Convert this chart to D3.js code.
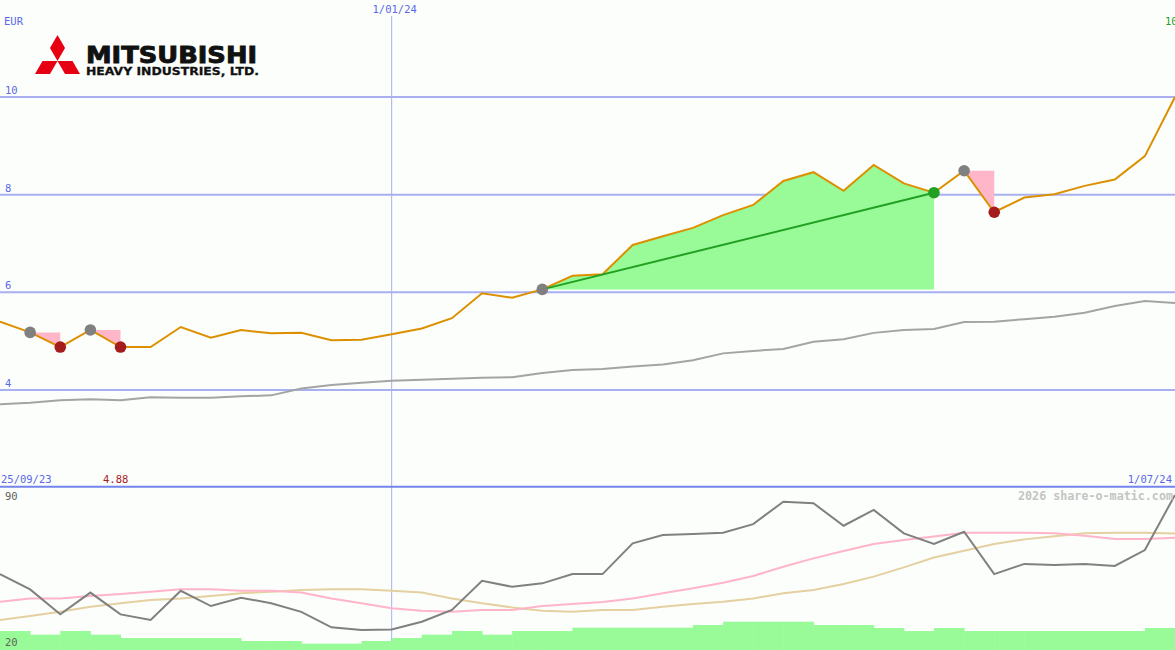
<!DOCTYPE html>
<html>
<head>
<meta charset="utf-8">
<script src="https://cdn.jsdelivr.net/npm/d3@7"></script>
<style>
html,body{margin:0;padding:0;background:#fbfefb;}
svg{display:block;}
</style>
</head>
<body>
<svg id="chart" width="1175" height="650"></svg>
<script>
// ---------- DATA ----------
const dates = ["2023-10-02","2023-10-09","2023-10-16","2023-10-23","2023-10-30","2023-11-06","2023-11-13","2023-11-20","2023-11-27","2023-12-04","2023-12-11","2023-12-18","2023-12-25","2024-01-01","2024-01-08","2024-01-15","2024-01-22","2024-01-29","2024-02-05","2024-02-12","2024-02-19","2024-02-26","2024-03-04","2024-03-11","2024-03-18","2024-03-25","2024-04-01","2024-04-08","2024-04-15","2024-04-22","2024-04-29","2024-05-06","2024-05-13","2024-05-20","2024-05-27","2024-06-03","2024-06-10","2024-06-17","2024-06-24","2024-07-01"];
const price = [5.40,5.18,4.88,5.23,4.88,4.88,5.29,5.07,5.23,5.16,5.17,5.02,5.03,5.14,5.26,5.47,5.98,5.89,6.06,6.34,6.37,6.97,7.15,7.32,7.58,7.79,8.28,8.46,8.08,8.61,8.23,8.04,8.49,7.64,7.94,8.01,8.18,8.31,8.79,10.0];
const movingAvg = [3.71,3.74,3.79,3.81,3.79,3.85,3.84,3.84,3.87,3.89,4.03,4.10,4.15,4.19,4.21,4.23,4.25,4.26,4.35,4.41,4.43,4.48,4.52,4.61,4.75,4.80,4.84,4.99,5.04,5.17,5.23,5.25,5.39,5.40,5.45,5.50,5.58,5.72,5.82,5.78];
const oscMain = [52.8,46.2,35.4,44.8,35.4,33.0,45.6,39.0,42.6,40.2,36.5,29.8,28.6,28.9,32.2,37.3,49.9,47.3,48.8,52.8,52.8,66.1,69.7,70.1,70.7,74.4,84.1,83.4,73.7,80.5,70.4,65.8,71.1,52.8,57.2,56.7,57.2,56.3,63.2,87.0];
const oscPink = [40.9,42.3,42.3,43.3,44.2,45.2,46.2,46.2,45.6,45.6,44.8,42.3,40.2,38.0,37.0,36.5,37.3,37.3,39.0,39.9,40.7,42.3,44.5,46.7,49.1,52.0,56.0,59.6,62.8,65.8,67.5,69.0,70.7,70.7,70.7,70.4,69.4,68.0,68.0,68.5];
const oscTan = [33.0,34.7,36.5,38.7,40.2,41.6,42.3,43.3,44.5,45.2,45.9,46.2,46.2,45.6,44.8,42.3,40.2,38.4,37.0,36.5,37.3,37.3,38.7,39.9,40.9,42.3,44.5,45.9,48.5,51.7,55.7,60.0,62.9,65.8,67.8,69.2,70.4,70.7,70.7,70.3];
const volume = [5.7,4.6,5.7,4.6,3.6,3.6,3.6,3.6,2.7,2.7,1.9,1.9,2.7,3.6,4.6,5.7,4.6,5.7,5.7,6.7,6.7,6.7,6.7,7.5,8.5,8.5,8.5,7.5,7.5,6.6,5.7,6.6,5.7,5.7,5.7,5.7,5.7,5.7,6.6];
// trades: entry/exit dates; win = green, loss = pink
const tradeStart = ["2023-10-09","2023-10-23","2024-02-05","2024-05-13"];
const tradeEnd   = ["2023-10-16","2023-10-30","2024-05-06","2024-05-20"];
const priceTicks = [4,6,8,10];
const oscTicks = [20,90];
const markerDate = "2024-01-01";
const markerLabel = "1/01/24";
const startLabel = "25/09/23";
const endLabel = "1/07/24";
const lowLabel = "4.88";
const lastLabel = "10.00";

// ---------- SETUP ----------
const W = 1175, H = 650;
const parse = d3.timeParse("%Y-%m-%d");
const dt = dates.map(parse);
const idx = {}; dates.forEach((d,i)=>idx[d]=i);

const svg = d3.select("#chart");
const x = d3.scaleTime().domain([dt[0], dt[dt.length-1]]).range([0, W]);
const y = d3.scaleLinear().domain([4,10]).range([390,97]);
const yo = d3.scaleLinear().domain([20,90]).range([650,488]);
const yv = d3.scaleLinear().domain([0,10]).range([650,616.7]);

const mono = "'DejaVu Sans Mono', 'Liberation Mono', monospace";

svg.append("rect").attr("width",W).attr("height",H).attr("fill","#fbfefb");

// horizontal price grid
svg.append("g").selectAll("line").data(priceTicks).join("line")
  .attr("x1",0).attr("x2",W).attr("y1",d=>y(d)).attr("y2",d=>y(d))
  .attr("stroke","#a8b0f2").attr("stroke-width",2);
svg.append("g").selectAll("text").data(priceTicks).join("text")
  .attr("x",5).attr("y",d=>y(d)-3).text(d=>d)
  .attr("font-family",mono).attr("font-size",10.5).attr("fill","#5a68e8");

// vertical date marker
svg.append("line").attr("x1",x(parse(markerDate))).attr("x2",x(parse(markerDate)))
  .attr("y1",16).attr("y2",H).attr("stroke","#a8b0f2").attr("stroke-width",1);
svg.append("text").attr("x",x(parse(markerDate))+3).attr("y",13).attr("text-anchor","middle")
  .text(markerLabel).attr("font-family",mono).attr("font-size",10.5).attr("fill","#5a68e8");

// panel separator
svg.append("line").attr("x1",0).attr("x2",W).attr("y1",486.7).attr("y2",486.7)
  .attr("stroke","#7484ec").attr("stroke-width",2);

// trades fills
tradeStart.forEach((s,k)=>{
  const a = idx[s], b = idx[tradeEnd[k]];
  const base = price[a];
  const win = price[b] > base;
  const pts = [];
  for (let i=a;i<=b;i++) pts.push([x(dt[i]), y(price[i])]);
  pts.push([x(dt[b]), y(base)]);
  pts.push([x(dt[a]), y(base)]);
  svg.append("path").attr("d", d3.line()(pts)+"Z")
    .attr("fill", win ? "#98fb98" : "#ffb6c8").attr("stroke","none");
});

// moving average
svg.append("path").datum(movingAvg)
  .attr("d", d3.line().x((d,i)=>x(dt[i])).y(d=>y(d)))
  .attr("fill","none").attr("stroke","#a4a4a4").attr("stroke-width",2);

// price line
svg.append("path").datum(price)
  .attr("d", d3.line().x((d,i)=>x(dt[i])).y(d=>y(d)))
  .attr("fill","none").attr("stroke","#dc9000").attr("stroke-width",2);

// winning trade straight line
tradeStart.forEach((s,k)=>{
  const a = idx[s], b = idx[tradeEnd[k]];
  if (price[b] > price[a]) {
    svg.append("line").attr("x1",x(dt[a])).attr("y1",y(price[a]))
      .attr("x2",x(dt[b])).attr("y2",y(price[b]))
      .attr("stroke","#22a022").attr("stroke-width",2);
  }
});

// markers
tradeStart.forEach((s,k)=>{
  const a = idx[s], b = idx[tradeEnd[k]];
  const win = price[b] > price[a];
  svg.append("circle").attr("cx",x(dt[a])).attr("cy",y(price[a])).attr("r",5.8).attr("fill","#808080");
  svg.append("circle").attr("cx",x(dt[b])).attr("cy",y(price[b])).attr("r",5.8).attr("fill", win ? "#22a022" : "#a41c1c");
});

// lower panel lines
const lo = d3.line().x((d,i)=>x(dt[i])).y(d=>yo(d));
svg.append("path").datum(oscTan).attr("d",lo).attr("fill","none").attr("stroke","#e4d0a0").attr("stroke-width",2);
svg.append("path").datum(oscPink).attr("d",lo).attr("fill","none").attr("stroke","#ffb4c8").attr("stroke-width",2);
svg.append("path").datum(oscMain).attr("d",lo).attr("fill","none").attr("stroke","#808080").attr("stroke-width",2);

// volume bars
svg.append("g").selectAll("rect").data(volume).join("rect")
  .attr("x",(d,i)=>x(dt[i])).attr("width",(d,i)=>x(dt[i+1])-x(dt[i])+0.5)
  .attr("y",d=>yv(d)).attr("height",d=>yv(0)-yv(d))
  .attr("fill","#98fb98");

// osc labels
svg.append("g").selectAll("text").data(oscTicks).join("text")
  .attr("x",5).attr("y",d=> d===90 ? 500 : 646).text(d=>d)
  .attr("font-family",mono).attr("font-size",10.5).attr("fill","#606060");

// texts
svg.append("text").attr("x",4).attr("y",25).text("EUR")
  .attr("font-family",mono).attr("font-size",10.5).attr("fill","#5a68e8");
svg.append("text").attr("x",1165).attr("y",25).text(lastLabel)
  .attr("font-family",mono).attr("font-size",10.5).attr("fill","#22a022");
svg.append("text").attr("x",1).attr("y",483).text(startLabel)
  .attr("font-family",mono).attr("font-size",10.5).attr("fill","#5a68e8");
svg.append("text").attr("x",103).attr("y",483).text(lowLabel)
  .attr("font-family",mono).attr("font-size",10.5).attr("fill","#a41c1c");
svg.append("text").attr("x",1172).attr("y",483).attr("text-anchor","end").text(endLabel)
  .attr("font-family",mono).attr("font-size",10.5).attr("fill","#5a68e8");
svg.append("text").attr("x",1018).attr("y",500).text("2026 share-o-matic.com")
  .attr("textLength",155).attr("lengthAdjust","spacingAndGlyphs")
  .attr("font-family",mono).attr("font-weight","bold").attr("font-size",11.5).attr("fill","#c4c4c4");

// logo
const logo = svg.append("g");
const C = [57.5, 61];
const rh = [
  [[0,0],[7.5,-13],[0,-26],[-7.5,-13]],
  [[0,0],[15.0,0],[22.5,13],[7.5,13]],
  [[0,0],[-15.0,0],[-22.5,13],[-7.5,13]]
];
rh.forEach(p=>{
  logo.append("path").attr("d", d3.line()(p.map(q=>[C[0]+q[0], C[1]+q[1]]))+"Z").attr("fill","#e60012");
});
logo.append("text").attr("x",86).attr("y",62.5).text("MITSUBISHI")
  .attr("textLength",171).attr("lengthAdjust","spacingAndGlyphs")
  .attr("font-family","'DejaVu Sans', sans-serif").attr("font-weight","bold").attr("font-size",22.5)
  .attr("fill","#111").attr("stroke","#111").attr("stroke-width",0.9);
logo.append("text").attr("x",86).attr("y",74.5).text("HEAVY INDUSTRIES, LTD.")
  .attr("textLength",173).attr("lengthAdjust","spacingAndGlyphs")
  .attr("font-family","'DejaVu Sans', sans-serif").attr("font-weight","bold").attr("font-size",11)
  .attr("fill","#111").attr("stroke","#111").attr("stroke-width",0.3);
</script>
</body>
</html>
